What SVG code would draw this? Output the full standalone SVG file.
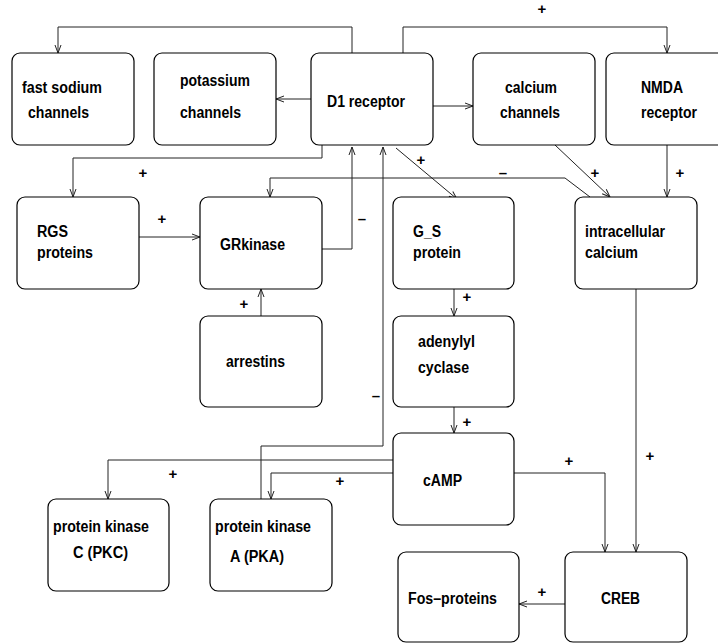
<svg xmlns="http://www.w3.org/2000/svg" width="718" height="643" viewBox="0 0 718 643">
<style>
.box{fill:#fff;stroke:#000;stroke-width:1.2}
.t{font-family:"Liberation Sans",Arial,sans-serif;font-weight:bold;font-size:16px;fill:#000}
.s{font-family:"Liberation Sans",Arial,sans-serif;font-weight:bold;font-size:15px;fill:#000;text-anchor:middle}
.c{fill:none;stroke:#222;stroke-width:1}
</style>
<defs>
<marker id="a" markerUnits="userSpaceOnUse" markerWidth="10" markerHeight="8" viewBox="-9 -4 10 8" refX="0" refY="0" orient="auto">
<path d="M-8,-3 L0,0 L-8,3" fill="none" stroke="#222" stroke-width="1"/>
</marker>
</defs>
<rect width="718" height="643" fill="#fff"/>
<g id="connectors">
<path class="c" d="M352,53 V27 H58 V53" marker-end="url(#a)"/>
<path class="c" d="M403,53 V27 H667 V53" marker-end="url(#a)"/>
<path class="c" d="M311,99 H276" marker-end="url(#a)"/>
<path class="c" d="M433,106 H473" marker-end="url(#a)"/>
<path class="c" d="M322,145 V158 H73 V197" marker-end="url(#a)"/>
<path class="c" d="M396,148 L457,199" marker-end="url(#a)"/>
<path class="c" d="M555,145 L610,197" marker-end="url(#a)"/>
<path class="c" d="M667,145 V197" marker-end="url(#a)"/>
<path class="c" d="M590,197 L565,178 H270 V197" marker-end="url(#a)"/>
<path class="c" d="M322,249 H352 V147" marker-end="url(#a)"/>
<path class="c" d="M139,237 H200" marker-end="url(#a)"/>
<path class="c" d="M261,316 V289" marker-end="url(#a)"/>
<path class="c" d="M454,289 V316" marker-end="url(#a)"/>
<path class="c" d="M454,407 V433" marker-end="url(#a)"/>
<path class="c" d="M261,499 V446 H383 V147" marker-end="url(#a)"/>
<path class="c" d="M393,460 H108 V499" marker-end="url(#a)"/>
<path class="c" d="M393,473 H271 V499" marker-end="url(#a)"/>
<path class="c" d="M514,473 H605 V552" marker-end="url(#a)"/>
<path class="c" d="M636,289 V552" marker-end="url(#a)"/>
<path class="c" d="M565,604 H519" marker-end="url(#a)"/>
<text class="s" x="542" y="14">+</text>
<text class="s" x="143" y="178">+</text>
<text class="s" x="421" y="165">+</text>
<text class="s" x="595" y="178">+</text>
<text class="s" x="680" y="178">+</text>
<text class="s" x="503" y="178">–</text>
<text class="s" x="162" y="224">+</text>
<text class="s" x="362" y="224">–</text>
<text class="s" x="244" y="309">+</text>
<text class="s" x="467" y="302">+</text>
<text class="s" x="467" y="427">+</text>
<text class="s" x="376" y="401">–</text>
<text class="s" x="173" y="479">+</text>
<text class="s" x="340" y="486">+</text>
<text class="s" x="569" y="466">+</text>
<text class="s" x="650" y="461">+</text>
<text class="s" x="542" y="597">+</text>
</g>
<g id="fast-sodium"><rect class="box" x="12" y="53" width="122" height="92" rx="8"/>
<text class="t" x="22" y="93" textLength="80" lengthAdjust="spacingAndGlyphs">fast sodium</text>
<text class="t" x="28" y="118" textLength="61" lengthAdjust="spacingAndGlyphs">channels</text></g>
<g id="potassium"><rect class="box" x="154" y="53" width="122" height="92" rx="8"/>
<text class="t" x="180" y="86" textLength="70" lengthAdjust="spacingAndGlyphs">potassium</text>
<text class="t" x="180" y="118" textLength="61" lengthAdjust="spacingAndGlyphs">channels</text></g>
<g id="d1"><rect class="box" x="311" y="53" width="122" height="92" rx="8"/>
<text class="t" x="327" y="107" textLength="78" lengthAdjust="spacingAndGlyphs">D1 receptor</text></g>
<g id="calcium-channels"><rect class="box" x="473" y="53" width="122" height="92" rx="8"/>
<text class="t" x="505" y="93" textLength="52" lengthAdjust="spacingAndGlyphs">calcium</text>
<text class="t" x="500" y="118" textLength="60" lengthAdjust="spacingAndGlyphs">channels</text></g>
<g id="nmda"><rect class="box" x="606" y="53" width="122" height="92" rx="8"/>
<text class="t" x="641" y="93" textLength="42" lengthAdjust="spacingAndGlyphs">NMDA</text>
<text class="t" x="641" y="118" textLength="56" lengthAdjust="spacingAndGlyphs">receptor</text></g>
<g id="rgs"><rect class="box" x="17" y="197" width="122" height="92" rx="8"/>
<text class="t" x="37" y="237" textLength="31" lengthAdjust="spacingAndGlyphs">RGS</text>
<text class="t" x="37" y="258" textLength="56" lengthAdjust="spacingAndGlyphs">proteins</text></g>
<g id="grkinase"><rect class="box" x="200" y="197" width="122" height="92" rx="8"/>
<text class="t" x="220" y="250" textLength="65" lengthAdjust="spacingAndGlyphs">GRkinase</text></g>
<g id="gs"><rect class="box" x="393" y="197" width="121" height="92" rx="8"/>
<text class="t" x="413" y="237" textLength="28" lengthAdjust="spacingAndGlyphs">G_S</text>
<text class="t" x="413" y="258" textLength="48" lengthAdjust="spacingAndGlyphs">protein</text></g>
<g id="intracellular"><rect class="box" x="575" y="197" width="122" height="92" rx="8"/>
<text class="t" x="585" y="237" textLength="80" lengthAdjust="spacingAndGlyphs">intracellular</text>
<text class="t" x="585" y="258" textLength="53" lengthAdjust="spacingAndGlyphs">calcium</text></g>
<g id="arrestins"><rect class="box" x="200" y="316" width="122" height="91" rx="8"/>
<text class="t" x="226" y="367" textLength="59" lengthAdjust="spacingAndGlyphs">arrestins</text></g>
<g id="adenylyl"><rect class="box" x="393" y="316" width="121" height="91" rx="8"/>
<text class="t" x="418" y="347" textLength="57" lengthAdjust="spacingAndGlyphs">adenylyl</text>
<text class="t" x="418" y="373" textLength="51" lengthAdjust="spacingAndGlyphs">cyclase</text></g>
<g id="camp"><rect class="box" x="393" y="433" width="121" height="92" rx="8"/>
<text class="t" x="423" y="486" textLength="39" lengthAdjust="spacingAndGlyphs">cAMP</text></g>
<g id="pkc"><rect class="box" x="48" y="499" width="121" height="92" rx="8"/>
<text class="t" x="53" y="532" textLength="96" lengthAdjust="spacingAndGlyphs">protein kinase</text>
<text class="t" x="73" y="558" textLength="55" lengthAdjust="spacingAndGlyphs">C (PKC)</text></g>
<g id="pka"><rect class="box" x="210" y="499" width="122" height="92" rx="8"/>
<text class="t" x="215" y="532" textLength="96" lengthAdjust="spacingAndGlyphs">protein kinase</text>
<text class="t" x="230" y="562" textLength="54" lengthAdjust="spacingAndGlyphs">A (PKA)</text></g>
<g id="fos"><rect class="box" x="398" y="552" width="121" height="90" rx="8"/>
<text class="t" x="408" y="604" textLength="89" lengthAdjust="spacingAndGlyphs">Fos–proteins</text></g>
<g id="creb"><rect class="box" x="565" y="552" width="122" height="90" rx="8"/>
<text class="t" x="601" y="604" textLength="39" lengthAdjust="spacingAndGlyphs">CREB</text></g>
</svg>
